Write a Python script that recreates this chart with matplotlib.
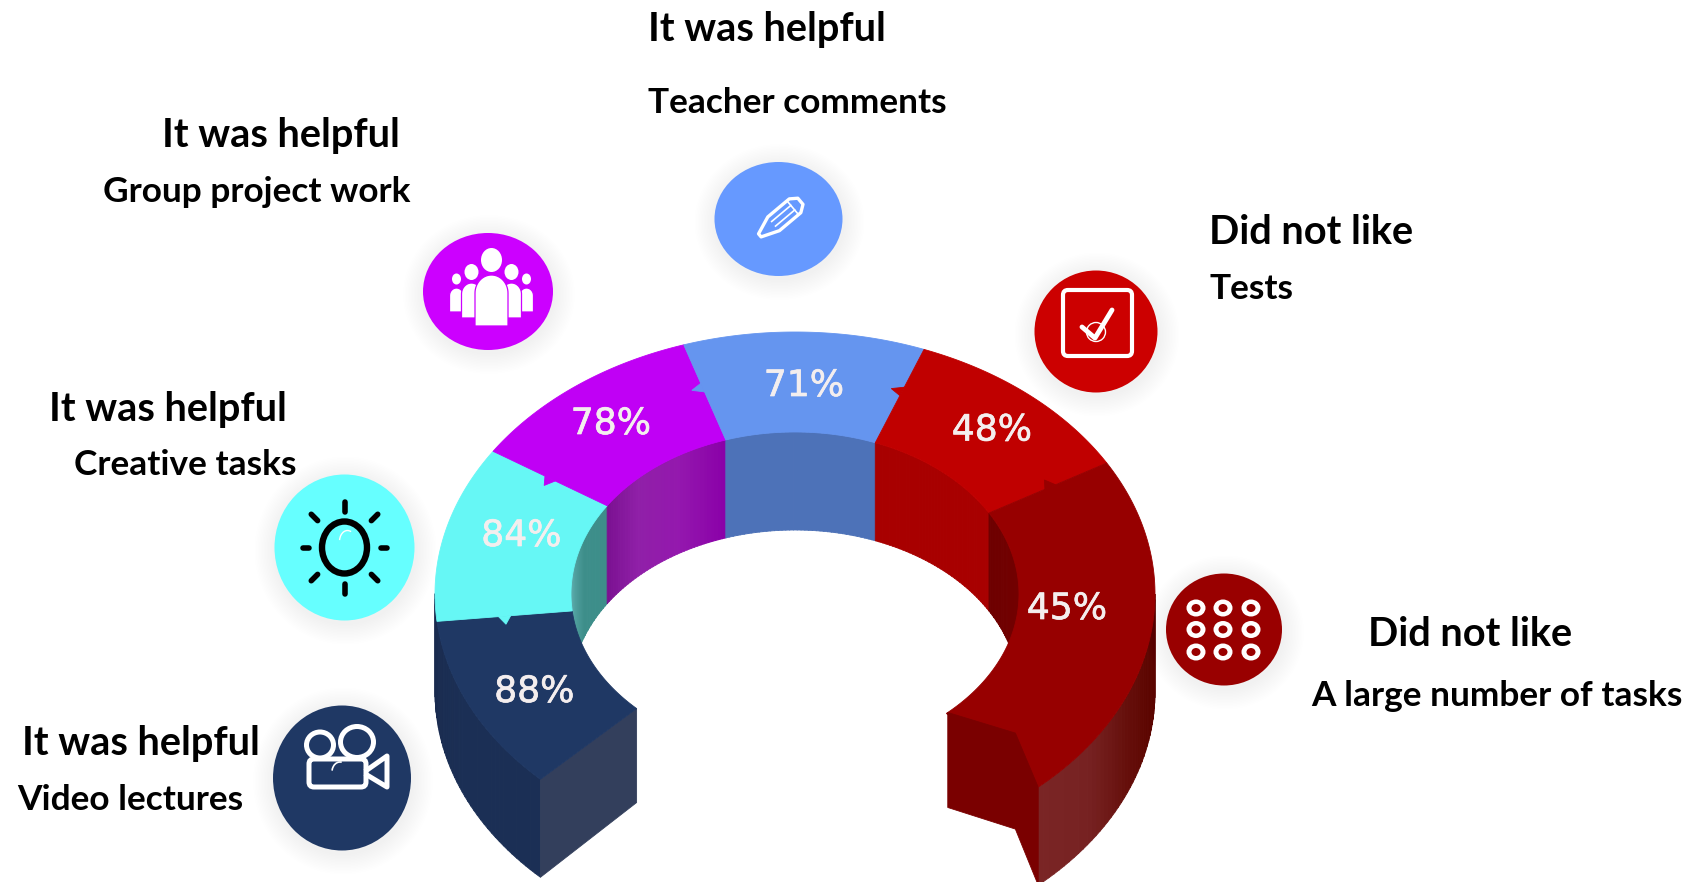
import numpy as np
import matplotlib
matplotlib.use('Agg')
import matplotlib.pyplot as plt
import matplotlib.patheffects as pe
from matplotlib.patches import Ellipse, Polygon, FancyBboxPatch, Arc
from matplotlib.colors import to_rgb

categories = ["Video lectures", "Creative tasks", "Group project work", "Teacher comments", "Tests", "A large number of tasks"]
opinions = ["It was helpful", "It was helpful", "It was helpful", "It was helpful", "Did not like", "Did not like"]
percents = [88, 84, 78, 71, 48, 45]
top_colors = ["#1f3864", "#66f7f5", "#c000f5", "#6595ef", "#c00000", "#970000"]
icon_colors = ["#1f3864", "#66ffff", "#cc00ff", "#6699ff", "#cc0000", "#990000"]

# segment edges, degrees clockwise from the top of the ring
edges = [-135, -96, -57, -18, 21, 60, 137.5]

CX, CY, DEPTH = 795, 594, 98
OUT_RX, OUT_RY = 360, 262
IN_RX, IN_RY = 224, 162

fig = plt.figure(figsize=(16.93, 8.82), dpi=100)
ax = fig.add_axes([0, 0, 1, 1])
ax.set_xlim(0, 1693)
ax.set_ylim(882, 0)
ax.axis('off')


def pt(theta, f, drop=0):
	th = np.radians(theta)
	rx = IN_RX + (OUT_RX - IN_RX) * f
	ry = IN_RY + (OUT_RY - IN_RY) * f
	return np.column_stack([CX + rx * np.sin(th), CY - ry * np.cos(th) + drop])


def poly(xy, color, z=2, **kw):
	ax.add_patch(Polygon(xy, closed=True, facecolor=color, edgecolor=color, lw=0.6, zorder=z, **kw))


def wall(a, b, f, colors, z=1):
	# curved side of the ring, cut in strips so the colour can change along it
	n = 40
	ts = np.linspace(a, b, n + 1)
	stops = np.linspace(0, 1, len(colors))
	rgb = np.array([to_rgb(c) for c in colors])
	for i in range(n):
		u = (i + 0.5) / n
		c = [np.interp(u, stops, rgb[:, k]) for k in range(3)]
		top = pt(np.linspace(ts[i], ts[i + 1] + 0.1, 4), f)
		bot = pt(np.linspace(ts[i + 1] + 0.1, ts[i], 4), f, DEPTH)
		poly(np.vstack([top, bot]), c, z)


def tab(theta, f, side, color):
	# little arrow left on a border between two segments
	base = pt(np.array([theta, theta]), np.array([f - 0.045, f + 0.045]))
	tip = pt(np.array([theta + side * 2.2]), np.array([f]))
	poly(np.vstack([base, tip]), color, 4)


def person(x, head_y, head_rx, head_ry, half, top, bottom, z):
	ax.add_patch(Ellipse((x, head_y), 2 * head_rx, 2 * head_ry, fc='white', ec='none', zorder=z))
	t = np.radians(np.linspace(180, 360, 30))
	cap_h = half * 1.1
	xs = x + half * np.cos(t)
	ys = top + cap_h + cap_h * np.sin(t)
	outline = np.vstack([[x - half, bottom], np.column_stack([xs, ys]), [x + half, bottom]])
	ax.add_patch(Polygon(outline, closed=True, fc='white', ec=icon_colors[2], lw=0.9, zorder=z))


# inner walls
wall(edges[1], edges[2], 0, ["#4a9c9c", "#5cabab", "#3d8e8a", "#3d8e8a"])
wall(edges[2], edges[3], 0, ["#7a1090", "#9020a8", "#9418ae", "#8a00a8"])
wall(edges[3], edges[4], 0, ["#4d72b8", "#4d72b8"])
wall(edges[4], edges[5], 0, ["#a80000", "#a80000"])
wall(edges[5], 95, 0, ["#6e0000", "#750000"])

# outer walls in front
wall(edges[0], -90, 1, ["#1b2f55", "#1b2f55", "#192a4e"])
wall(90, edges[6], 1, ["#5a0400", "#5c0500", "#66100c", "#772222", "#7a2525"])

# end faces
a = pt(np.array([float(edges[0])]), 1)
b = pt(np.array([float(edges[0])]), 0)
poly(np.vstack([a, b, b + [0, DEPTH - 4], a + [0, DEPTH]]), "#333f5c", 3)

# top of the ring
for i in range(len(percents)):
	ts = np.linspace(edges[i], edges[i + 1], 80)
	poly(np.vstack([pt(ts, 1), pt(ts[::-1], 0)]), top_colors[i], 3)

c = pt(np.array([float(edges[6])]), 1)
d = pt(np.array([137.0]), 0)
k = pt(np.array([131.0]), 0.5)
poly(np.vstack([d, k, c, c + [0, DEPTH], k + [0, DEPTH - 2], d + [0, DEPTH - 3]]), "#7a0000", 4)

tab(-96, 0.5, -1, top_colors[1])
tab(-57, 0.5, -1, top_colors[2])
tab(-18, 0.55, -1, top_colors[3])
tab(21, 0.55, -1, top_colors[4])
tab(60, 0.52, -1, top_colors[5])

# percent labels
pct_x = [534.5, 521.5, 611, 804, 992, 1067]
pct_y = [692, 536, 424, 386, 430.5, 609]
for x, y, v in zip(pct_x, pct_y, percents):
	ax.text(x, y, "%d%%" % v, color="#f4eeee", fontsize=26, ha='center', va='center',
		family='DejaVu Sans', zorder=6, path_effects=[pe.withStroke(linewidth=0.5, foreground="#f4eeee")])

# icon discs with soft shadow
disc_x = [342, 344.5, 488, 778.5, 1096, 1224]
disc_y = [778, 547.5, 291.5, 219, 331.5, 629.5]
disc_rx = [69, 70, 65, 64, 61.5, 58]
disc_ry = [72.5, 73, 58.5, 57, 61, 56]
for x, y, rx, ry, col in zip(disc_x, disc_y, disc_rx, disc_ry, icon_colors):
	for g in range(14, 0, -1):
		ax.add_patch(Ellipse((x + 1, y + 3), 2 * (rx + g * 1.5), 2 * (ry + g * 1.5), facecolor='black',
			edgecolor='none', alpha=0.005, zorder=1.5))
	ax.add_patch(Ellipse((x, y), 2 * rx, 2 * ry, facecolor=col, edgecolor='none', zorder=7))

W = 'white'
IZ = 8

# camera
ax.add_patch(Ellipse((320, 745), 27, 26, fc='none', ec=W, lw=3.6, zorder=IZ))
ax.add_patch(Ellipse((357, 742), 33, 31, fc='none', ec=W, lw=3.6, zorder=IZ))
ax.add_patch(FancyBboxPatch((309, 759), 57, 28, boxstyle="round,pad=0,rounding_size=5", fc=icon_colors[0], ec=W, lw=3.6, zorder=IZ))
ax.plot([367, 387, 387, 367], [770, 756, 787, 775], color=W, lw=3.6, solid_joinstyle='round', zorder=IZ)
ax.add_patch(Arc((340, 772), 16, 20, theta1=190, theta2=280, ec=W, lw=1.2, zorder=IZ + 1))

# sun
sx, sy = disc_x[1], disc_y[1]
ax.add_patch(Ellipse((sx, sy), 45, 52, fc='none', ec='black', lw=4.6, zorder=IZ))
for ang in range(0, 360, 45):
	c_, s_ = np.cos(np.radians(ang)), np.sin(np.radians(ang))
	r0, r1 = (36, 42) if ang % 90 == 0 else (38, 47)
	if ang % 180 == 90:
		r0, r1 = 36, 46
	ax.plot([sx + r0 * c_, sx + r1 * c_], [sy + r0 * s_, sy + r1 * s_], color='black', lw=4,
		solid_capstyle='round', zorder=IZ)
ax.add_patch(Arc((sx + 3, sy - 6), 16, 22, theta1=190, theta2=290, ec=W, lw=1, zorder=IZ + 1))

# people
gx = disc_x[2] + 3.5
person(gx - 35, 279, 4.5, 5.5, 7, 288, 312, IZ)
person(gx + 35, 279, 4.5, 5.5, 7, 288, 312, IZ)
person(gx - 20, 272, 7, 8, 10, 283, 318, IZ + 1)
person(gx + 20, 272, 7, 8, 10, 283, 318, IZ + 1)
person(gx, 260, 10.5, 12, 16.5, 275, 326, IZ + 2)

# pencil
px, py = disc_x[3] + 2, disc_y[3] - 1
body = np.array([[-9, -9], [19, -9], [26, -4], [26, 4], [19, 9], [-9, 9], [-27, 2], [-27, -2]], dtype=float)
rot = np.radians(-40)
R = np.array([[np.cos(rot), -np.sin(rot)], [np.sin(rot), np.cos(rot)]])
ax.add_patch(Polygon(body @ R.T + [px, py], closed=True, fc='none', ec=W, lw=2.4, joinstyle='round', zorder=IZ))
for seg in ([[-9, -3], [16, -3]], [[-9, 3], [16, 3]], [[16, -9], [16, 9]]):
	s = np.array(seg, dtype=float) @ R.T + [px, py]
	ax.plot(s[:, 0], s[:, 1], color=W, lw=1.2, zorder=IZ)

# check box
ax.add_patch(FancyBboxPatch((1063, 290), 69, 66, boxstyle="round,pad=0,rounding_size=5", fc='none', ec=W, lw=3, zorder=IZ))
ax.plot([1082, 1095, 1112], [327, 338, 310], color=W, lw=3.5, solid_capstyle='round', zorder=IZ)
ax.add_patch(Ellipse((1096, 332), 19, 19, fc='none', ec=W, lw=1, zorder=IZ))

# dots
for x in [1196, 1223, 1251]:
	for y in [608, 629.5, 652]:
		ax.add_patch(Ellipse((x, y), 19, 17, fc=W, ec='none', zorder=IZ))
		ax.add_patch(Ellipse((x, y), 9, 8, fc=icon_colors[5], ec='none', zorder=IZ + 1))

# captions
head_x = [22, 49, 162, 648, 1209, 1368]
head_y = [743, 409, 135, 29, 233, 635]
name_x = [17, 74.5, 103, 648, 1209, 1311]
name_y = [800, 465, 192, 103, 289, 696]
for i in range(len(categories)):
	ax.text(head_x[i], head_y[i], opinions[i], fontsize=28.6, family='Lato', fontweight='bold', color='black',
		ha='left', va='center', zorder=9)
	ax.text(name_x[i], name_y[i], categories[i], fontsize=25.4, family='Lato', fontweight='bold', color='black',
		ha='left', va='center', zorder=9)

plt.savefig('out.png', dpi=100)
